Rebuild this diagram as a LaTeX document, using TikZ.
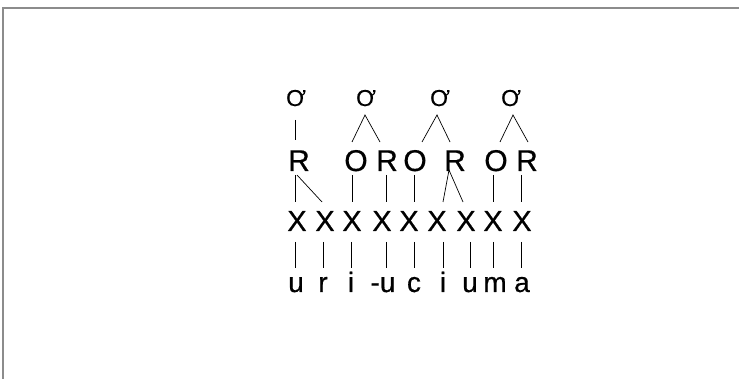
\documentclass[tikz,border=0pt]{standalone}
\usepackage{fontspec}
\setmainfont[FakeBold=0.6]{Liberation Sans}
\usetikzlibrary{calc}
\tikzset{
  lbl/.style={inner sep=0pt, anchor=base},
  sig/.style={lbl, font=\fontsize{23}{25}\selectfont},
  ro/.style={lbl, font=\fontsize{30}{32}\selectfont},
  xx/.style={lbl, font=\fontsize{29}{31}\selectfont},
  seg/.style={lbl, font=\fontsize{28}{30}\selectfont},
  link/.style={draw=black, line width=0.7pt},
  frame/.style={draw=black!45, line width=1.2pt}
}
\begin{document}
\begin{tikzpicture}[x=1pt,y=-1pt]
\useasboundingbox (0,0) rectangle (739,379);
\draw[frame] (3,379) -- (3,8) -- (739,8);
% top row
\node[sig] (s1) at (296,106) {Ơ};
\node[sig] (s2) at (366,106) {Ơ};
\node[sig] (s3) at (440,106) {Ơ};
\node[sig] (s4) at (511,106) {Ơ};
% O/R row
\node[ro] (R1) at (299,171) {R};
\node[ro] (O2) at (356,171) {O};
\node[ro] (R3) at (387,171) {R};
\node[ro] (O4) at (415,171) {O};
\node[ro] (R5) at (455,171) {R};
\node[ro] (O6) at (496,171) {O};
\node[ro] (R7) at (527,171) {R};
% X row
\node[xx] (X1) at (297,231) {X};
\node[xx] (X2) at (325,231) {X};
\node[xx] (X3) at (352,231) {X};
\node[xx] (X4) at (382,231) {X};
\node[xx] (X5) at (409,231) {X};
\node[xx] (X6) at (437,231) {X};
\node[xx] (X7) at (466,231) {X};
\node[xx] (X8) at (493,231) {X};
\node[xx] (X9) at (522,231) {X};
% segments
\node[seg] (L1) at (296,292) {u};
\node[seg] (L2) at (323,292) {r};
\node[seg] (L3) at (351,292) {i};
\node[seg] (L4) at (383,292) {-u};
\node[seg] (L5) at (414,292) {c};
\node[seg] (L6) at (443,292) {i};
\node[seg] (L7) at (470,292) {u};
\node[seg] (L8) at (495,292) {m};
\node[seg] (L9) at (522,292) {a};
% sigma to O/R
\draw[link] ($(s1.base)+(-1,14)$) -- ($(R1.base)+(-4,-31)$);
\draw[link] ($(O2.base)+(-4,-29)$) -- ($(s2.base)+(-1,9)$) -- ($(R3.base)+(-7,-29)$);
\draw[link] ($(O4.base)+(7,-29)$) -- ($(s3.base)+(-3,9)$) -- ($(R5.base)+(-5,-29)$);
\draw[link] ($(O6.base)+(4,-29)$) -- ($(s4.base)+(2,9)$) -- ($(R7.base)+(1,-29)$);
% O/R to X
\draw[link] ($(R1.base)+(-4,4)$) -- ($(X1.base)+(-2,-29)$);
\draw[link] ($(R1.base)+(-2,4)$) -- ($(X2.base)+(-3,-29)$);
\draw[link] ($(O2.base)+(-4,4)$) -- ($(X3.base)+(0,-29)$);
\draw[link] ($(R3.base)+(-1,4)$) -- ($(X4.base)+(4,-29)$);
\draw[link] ($(O4.base)+(-1,4)$) -- ($(X5.base)+(5,-29)$);
\draw[link] ($(X6.base)+(6,-29)$) -- ($(R5.base)+(-6,-1)$) -- ($(X7.base)+(-3,-29)$);
\draw[link] ($(O6.base)+(-3,4)$) -- ($(X8.base)+(0,-29)$);
\draw[link] ($(R7.base)+(-6,4)$) -- ($(X9.base)+(-1,-29)$);
% X to segments
\draw[link] ($(X1.base)+(-2,11)$) -- ($(L1.base)+(-1,-24)$);
\draw[link] ($(X2.base)+(-2,11)$) -- ($(L2.base)+(0,-24)$);
\draw[link] ($(X3.base)+(-1,11)$) -- ($(L3.base)+(0,-24)$);
\draw[link] ($(X4.base)+(4,11)$) -- ($(L4.base)+(3,-24)$);
\draw[link] ($(X5.base)+(5,11)$) -- ($(L5.base)+(0,-24)$);
\draw[link] ($(X6.base)+(6,11)$) -- ($(L6.base)+(0,-24)$);
\draw[link] ($(X7.base)+(4,11)$) -- ($(L7.base)+(0,-24)$);
\draw[link] ($(X8.base)+(0,11)$) -- ($(L8.base)+(-2,-24)$);
\draw[link] ($(X9.base)+(-1,11)$) -- ($(L9.base)+(-1,-24)$);
\end{tikzpicture}
\end{document}
